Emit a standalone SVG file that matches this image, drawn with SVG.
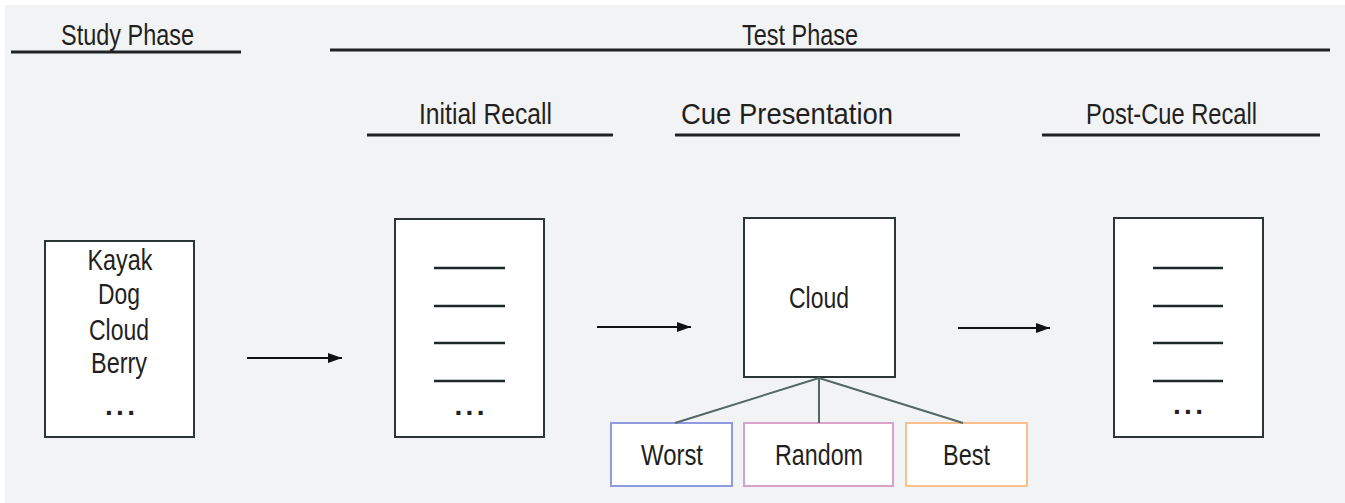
<svg xmlns="http://www.w3.org/2000/svg" width="1345" height="503" viewBox="0 0 1345 503">
<defs>
<style>
.t{font-family:"Liberation Sans",Arial,sans-serif;font-size:29px;fill:#231f20;text-anchor:middle}
.d{font-family:"Liberation Sans",Arial,sans-serif;font-size:28px;font-weight:bold;fill:#231f20;text-anchor:middle}
.hl{stroke:#1e2222;stroke-width:3;fill:none}
.box{fill:#ffffff;stroke:#2b3535;stroke-width:2}
.ln{stroke:#1e2828;stroke-width:2.5}
.arr{stroke:#111;stroke-width:2;fill:none;marker-end:url(#ah)}
.tree{stroke:#556666;stroke-width:2;fill:none}
</style>
<marker id="ah" viewBox="0 0 14 10" refX="14" refY="5" markerWidth="14" markerHeight="10" orient="auto" markerUnits="userSpaceOnUse">
<path d="M0,0 L14,5 L0,10 z" fill="#111"/>
</marker>
</defs>
<rect x="0" y="0" width="1345" height="503" fill="#ffffff"/>
<rect x="5" y="5" width="1340" height="498" fill="#f2f3f5"/>

<g id="headers">
<text class="t" x="127.5" y="45" textLength="133" lengthAdjust="spacingAndGlyphs">Study Phase</text>
<line class="hl" x1="11" y1="52" x2="241" y2="52"/>
<text class="t" x="800" y="45" textLength="116" lengthAdjust="spacingAndGlyphs">Test Phase</text>
<line class="hl" x1="330" y1="50" x2="1330" y2="50"/>
<text class="t" x="485.5" y="124" textLength="133" lengthAdjust="spacingAndGlyphs">Initial Recall</text>
<line class="hl" x1="367" y1="135" x2="613" y2="135"/>
<text class="t" x="787" y="124" textLength="212" lengthAdjust="spacingAndGlyphs">Cue Presentation</text>
<line class="hl" x1="675" y1="135" x2="960" y2="135"/>
<text class="t" x="1171.5" y="124" textLength="171" lengthAdjust="spacingAndGlyphs">Post-Cue Recall</text>
<line class="hl" x1="1042" y1="135" x2="1320" y2="135"/>
</g>

<g id="study-list">
<rect class="box" x="45" y="241" width="149" height="196"/>
<text class="t" x="120" y="270" textLength="65" lengthAdjust="spacingAndGlyphs">Kayak</text>
<text class="t" x="119" y="304" textLength="42" lengthAdjust="spacingAndGlyphs">Dog</text>
<text class="t" x="119" y="340" textLength="60" lengthAdjust="spacingAndGlyphs">Cloud</text>
<text class="t" x="119" y="373" textLength="56" lengthAdjust="spacingAndGlyphs">Berry</text>
<text class="d" x="120" y="415" textLength="30" lengthAdjust="spacing">...</text>
</g>

<g id="initial-recall">
<rect class="box" x="395" y="219" width="149" height="218"/>
<line class="ln" x1="434" y1="268" x2="505" y2="268"/>
<line class="ln" x1="434" y1="306" x2="505" y2="306"/>
<line class="ln" x1="434" y1="343" x2="505" y2="343"/>
<line class="ln" x1="434" y1="381" x2="505" y2="381"/>
<text class="d" x="469.5" y="415" textLength="30" lengthAdjust="spacing">...</text>
</g>

<g id="cue">
<rect class="box" x="744" y="218" width="151" height="159"/>
<text class="t" x="819" y="308" textLength="60" lengthAdjust="spacingAndGlyphs">Cloud</text>
</g>

<g id="worst">
<rect x="611" y="423" width="121" height="63" fill="#fff" stroke="#8e9be0" stroke-width="2"/>
<text class="t" x="672" y="465" textLength="62" lengthAdjust="spacingAndGlyphs">Worst</text>
</g>
<g id="random">
<rect x="744" y="423" width="149" height="63" fill="#fff" stroke="#d8a2c8" stroke-width="2"/>
<text class="t" x="819" y="465" textLength="88" lengthAdjust="spacingAndGlyphs">Random</text>
</g>
<g id="best">
<rect x="906" y="423" width="121" height="63" fill="#fff" stroke="#f7c08c" stroke-width="2"/>
<text class="t" x="966.5" y="465" textLength="47" lengthAdjust="spacingAndGlyphs">Best</text>
</g>

<g id="post-cue-recall">
<rect class="box" x="1114" y="218" width="149" height="219"/>
<line class="ln" x1="1153" y1="268" x2="1223" y2="268"/>
<line class="ln" x1="1153" y1="306" x2="1223" y2="306"/>
<line class="ln" x1="1153" y1="343" x2="1223" y2="343"/>
<line class="ln" x1="1153" y1="381" x2="1223" y2="381"/>
<text class="d" x="1188" y="414" textLength="30" lengthAdjust="spacing">...</text>
</g>

<g id="connectors">
<line class="arr" x1="247" y1="358" x2="342" y2="358"/>
<line class="arr" x1="597" y1="327" x2="691" y2="327"/>
<line class="arr" x1="958" y1="328" x2="1050" y2="328"/>
<line class="tree" x1="819" y1="378" x2="675" y2="423"/>
<line class="tree" x1="819" y1="378" x2="819" y2="423"/>
<line class="tree" x1="819" y1="378" x2="963" y2="423"/>
</g>
</svg>
